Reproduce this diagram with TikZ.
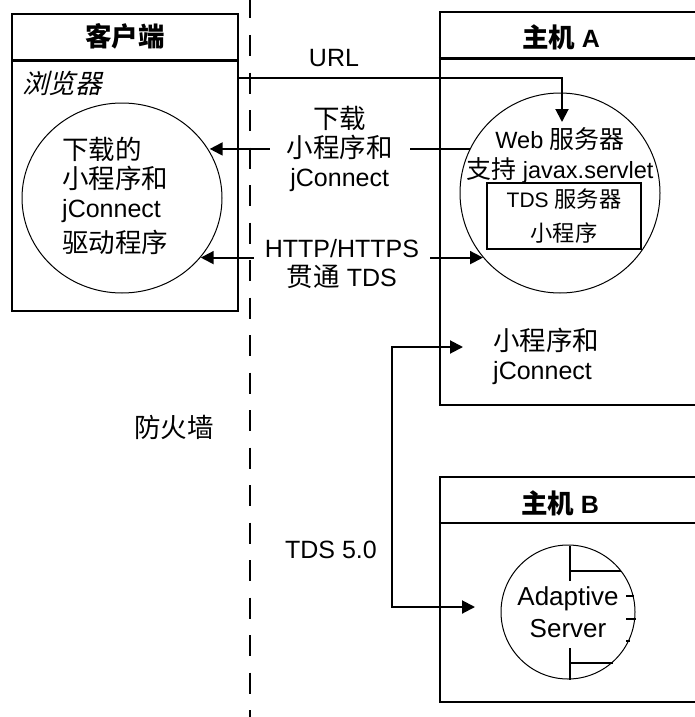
\documentclass[tikz,border=0pt]{standalone}
\usepackage{fontspec}
\setmainfont{Liberation Sans}
\newfontfamily\cjk{Noto Sans CJK SC}[Scale=1.06]
\newfontfamily\cjkxie{Noto Sans CJK SC}[Scale=1.06, FakeSlant=0.25]
\usetikzlibrary{arrows.meta,positioning,calc,shapes.geometric}
\tikzset{
  zhuji/.style={draw, rectangle, line width=2.5pt, inner sep=0pt},
  yuan/.style={draw, circle, line width=1pt, inner sep=0pt},
  jiantou/.style={-{Triangle[length=13pt,width=13pt]}, line width=2pt},
  shuangjian/.style={{Triangle[length=13pt,width=13pt]}-{Triangle[length=13pt,width=13pt]}, line width=2pt},
  wenzi/.style={font=\fontsize{25}{29}\selectfont, align=center, inner sep=0pt},
  biaoti/.style={font=\fontsize{25}{29}\selectfont\bfseries, inner sep=0pt},
  gekai/.style={fill=white, inner ysep=2pt},
  huoqiang/.style={line width=2pt, dash pattern=on 21pt off 16.5pt, dash phase=2.5pt},
  tubiao/.style={line width=2pt},
}

\begin{document}
\begin{tikzpicture}[x=1pt,y=-1pt]
  \useasboundingbox (0,0) rectangle (695,717);
  \clip (0,0) rectangle (695,717);

  % 防火墙
  \draw[huoqiang] (250,0) -- (250,717);
  \node[wenzi] (fhq) at (174,427) {\cjk 防火墙};

  % 客户端
  \node[zhuji, minimum width=226pt, minimum height=297pt] (kehu) at (125,162.5) {};
  \draw[line width=2.5pt] ([yshift=-48pt]kehu.north west) -- ([yshift=-48pt]kehu.north east);
  \node[biaoti] (kehubt) at ($(kehu.north)+(0,24)$) {\cjk 客户端};
  \node[wenzi, anchor=west] (llq) at (22,83) {\cjkxie 浏览器};
  \node[draw, ellipse, line width=1pt, inner sep=0pt, minimum width=200pt, minimum height=190pt] (kcyuan) at (122,198) {};
  \node[wenzi, align=left, anchor=west] (kctxt) at (62,196)
    {{\cjk 下载的}\\{\cjk 小程序和}\\jConnect\\[6pt]{\cjk 驱动程序}};

  % 主机 A
  \node[zhuji, minimum width=260pt, minimum height=393pt] (zhujiA) at (570,208.5) {};
  \draw[line width=2.5pt] ([yshift=-48pt]zhujiA.north west) -- ([yshift=-48pt]zhujiA.north east);
  \node[biaoti] (zhujiAbt) at (561,37) {{\cjk 主机} A};
  \node[yuan, minimum size=200pt] (web) at (560,193) {};
  \node[wenzi, font=\fontsize{23.5}{30}\selectfont] (webtxt) at (560,155)
    {Web {\cjk 服务器}\\{\cjk 支持} javax.servlet};
  \node[draw, line width=2pt, minimum width=154pt, minimum height=66pt, inner sep=0pt,
        align=center, font=\fontsize{21}{25}\selectfont] (tds) at (564,216)
    {TDS {\cjk 服务器}\\[9pt]{\cjk 小程序}};
  \node[wenzi, align=left, anchor=west] (xcx) at (493,356) {{\cjk 小程序和}\\jConnect};

  % 主机 B
  \node[zhuji, minimum width=260pt, minimum height=225pt] (zhujiB) at (570,589.5) {};
  \draw[line width=2.5pt] ([yshift=-47pt]zhujiB.north west) -- ([yshift=-47pt]zhujiB.north east);
  \node[biaoti] (zhujiBbt) at (560,503) {{\cjk 主机} B};
  \node[yuan, wenzi, font=\fontsize{26}{29}\selectfont, minimum size=134pt] (as) at (568,612) {Adaptive\\[3pt]Server};
  \draw[tubiao] (570,546) -- (570,581) (570,571) -- (621,571);
  \draw[tubiao] (570,648) -- (570,680) (570,663) -- (613,663);
  \draw[line width=1.2pt] (626,596) -- (634,596);
  \draw[tubiao] (626,619) -- (636,619) (626,641) -- (630,641);

  % 连接
  \coordinate (urlA) at ($(kehu.north east)+(0,65)$);
  \coordinate (urlB) at (562,122);
  \draw[jiantou] (urlA) -| (urlB);
  \node[wenzi] (url) at (334,58) {URL};
  \draw[jiantou] (web.154.5) -- (web.154.5 -| kcyuan.28.6)
    node[wenzi, gekai, midway, inner xsep=17pt] (xiazai) {{\cjk 下载}\\{\cjk 小程序和}\\jConnect};
  \draw[shuangjian] (kcyuan.-37.6 |- web.220.5) -- (web.220.5)
    node[wenzi, gekai, midway, inner xsep=11pt, yshift=-6pt] (http) {HTTP/HTTPS\\{\cjk 贯通} TDS};
  \coordinate (tdsA) at (463,347);
  \coordinate (tdsB) at (475,607);
  \draw[shuangjian] (tdsA) -- ++(-71,0) |- (tdsB);
  \node[wenzi] (tds50) at (331,550) {TDS 5.0};
\end{tikzpicture}
\end{document}
